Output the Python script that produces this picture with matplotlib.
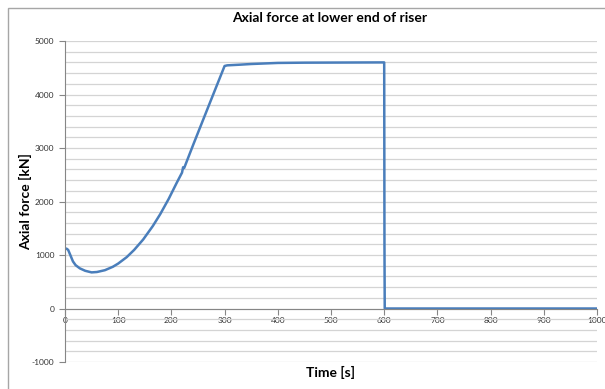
import numpy as np
import matplotlib.pyplot as plt
from matplotlib.patches import Rectangle
from matplotlib.ticker import MultipleLocator

plt.rcParams["font.family"] = ["Lato", "DejaVu Sans"]
plt.rcParams["axes.unicode_minus"] = False

# axial force time series read from the riser run
time_s = [0, 3, 6, 10, 15, 20, 28, 38, 50, 60, 75, 90, 100, 116, 130,
          147, 165, 179, 195, 210, 220, 222, 224, 241, 260, 280, 300,
          305, 330, 350, 400, 450, 599, 600, 600.5, 601, 1000]
force_kn = [1120, 1118, 1095, 1000, 880, 810, 750, 705, 675, 682, 716,
            780, 840, 960, 1095, 1290, 1540, 1763, 2050, 2349, 2540,
            2640, 2625, 3060, 3536, 4035, 4533, 4545, 4558, 4570, 4590,
            4595, 4600, 4600, 1200, 0, 0]

xticks = np.arange(0, 1001, 100)
yticks = np.arange(-1000, 5001, 1000)

fig = plt.figure(figsize=(6.05, 3.89), dpi=100)
ax = fig.add_axes([0.1074, 0.0694, 0.8794, 0.8252])

# chart-area frame (extends past the image edges)
fig.patches.append(Rectangle((8 / 605, -0.1), 1.2, (389 - 8) / 389 + 0.1,
                             transform=fig.transFigure, fill=False,
                             edgecolor="#a6a6a6", lw=1.0))

ax.plot(time_s, force_kn, color="#4a7ebb", lw=1.8, solid_joinstyle="round")

ax.set_xlim(0, 1000)
ax.set_ylim(-1000, 5000)
ax.set_xticks(xticks)
ax.set_yticks(yticks)
ax.yaxis.set_minor_locator(MultipleLocator(200))
ax.grid(axis="y", which="both", color="#d4d4d4", lw=0.9)
ax.set_axisbelow(True)

for s in ["top", "right"]:
    ax.spines[s].set_visible(False)
ax.spines["bottom"].set_position(("data", 0))
ax.spines["bottom"].set_color("#868686")
ax.spines["left"].set_color("#868686")
ax.tick_params(axis="both", which="major", labelsize=6, colors="#868686",
               labelcolor="#333333", length=4, width=0.8, direction="out")
ax.tick_params(axis="y", which="minor", length=0)
ax.tick_params(axis="x", pad=2)
for lbl in ax.get_xticklabels():
    lbl.set_clip_on(False)

ax.set_xlabel("Time [s]", fontsize=10, fontweight="bold")
ax.xaxis.set_label_coords(0.5, -0.012)
ax.set_ylabel("Axial force [kN]", fontsize=10, fontweight="bold")
ax.yaxis.set_label_coords(-0.062, 0.5)

fig.text(0.545, 0.955, "Axial force at lower end of riser", ha="center",
         va="center", fontsize=10, fontweight="bold")

fig.savefig("out.png", dpi=100)
